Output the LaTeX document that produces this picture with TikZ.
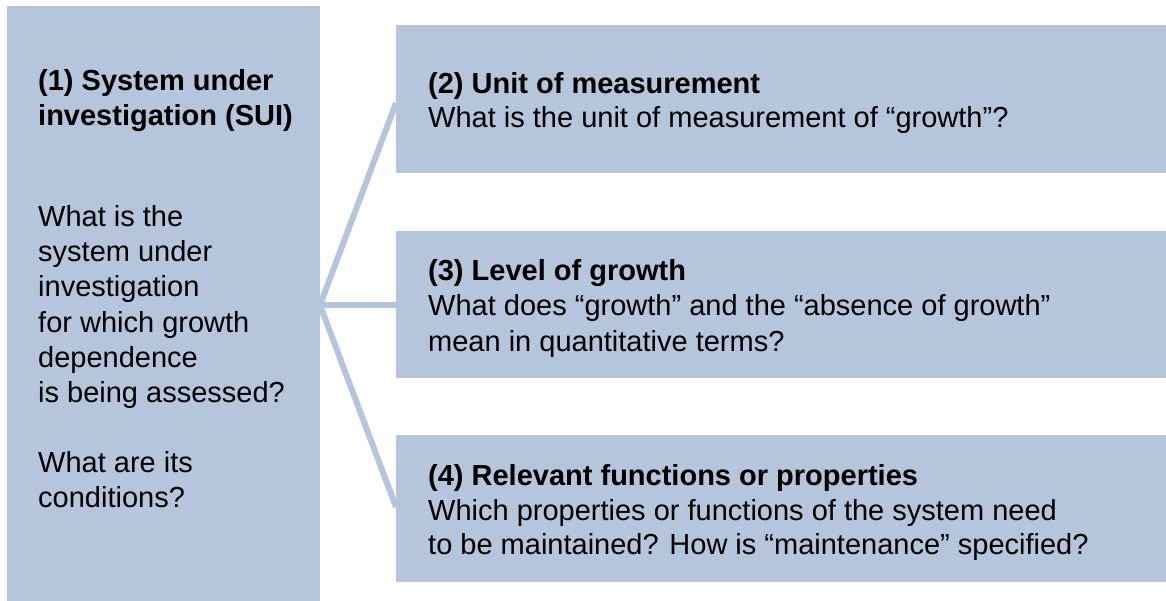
\documentclass[tikz,border=0pt]{standalone}
\usepackage{fontspec}
\setmainfont{Liberation Sans}
\definecolor{boxblue}{RGB}{180,197,220}
\begin{document}
\begin{tikzpicture}[x=1pt,y=-1pt,
  box/.style={rectangle,fill=boxblue,draw=none,inner sep=0pt,anchor=north west},
  conn/.style={draw=boxblue,line width=6pt},
  txt/.style={anchor=base west,inner sep=0pt,font=\fontsize{29}{35}\selectfont},
  ttl/.style={txt,font=\fontsize{29}{35}\selectfont\bfseries}]
\useasboundingbox (0,0) rectangle (1166,601);
\node[box,minimum width=313pt,minimum height=595pt] (sui) at (7,6) {};
\node[box,minimum width=770pt,minimum height=148pt] (b2) at (396,25) {};
\node[box,minimum width=770pt,minimum height=147pt] (b3) at (396,231) {};
\node[box,minimum width=770pt,minimum height=147pt] (b4) at (396,435) {};
\coordinate (hub) at (320,305);
\draw[conn] (hub) -- (b2.west |- 0,103);
\draw[conn] (hub) -- (b3.west |- hub);
\draw[conn] (hub) -- (b4.west |- 0,507);
% left box
\node[ttl] (s1) at (38,91) {(1) System under};
\node[ttl] (s2) at (38,126) {investigation (SUI)};
\node[txt] (s3) at (38,227) {What is the};
\node[txt] (s4) at (38,262) {system under};
\node[txt] (s5) at (38,297) {investigation};
\node[txt] (s6) at (38,332) {for which growth};
\node[txt] (s7) at (38,367) {dependence};
\node[txt] (s8) at (38,402) {is being assessed?};
\node[txt] (s9) at (38,472) {What are its};
\node[txt] (s10) at (38,507) {conditions?};
% box 2
\node[ttl] (u1) at (428,94) {(2) Unit of measurement};
\node[txt] (u2) at (428,128) {What is the unit of measurement of “growth”?};
% box 3
\node[ttl] (l1) at (428,281) {(3) Level of growth};
\node[txt] (l2) at (428,316) {What does “growth” and the “absence of growth”};
\node[txt] (l3) at (428,351) {mean in quantitative terms?};
% box 4
\node[ttl] (r1) at (428,485) {(4) Relevant functions or properties};
\node[txt] (r2) at (428,520) {Which properties or functions of the system need};
\node[txt] (r3) at (428,554) {to be maintained? How is “maintenance” specified?};
\end{tikzpicture}
\end{document}
